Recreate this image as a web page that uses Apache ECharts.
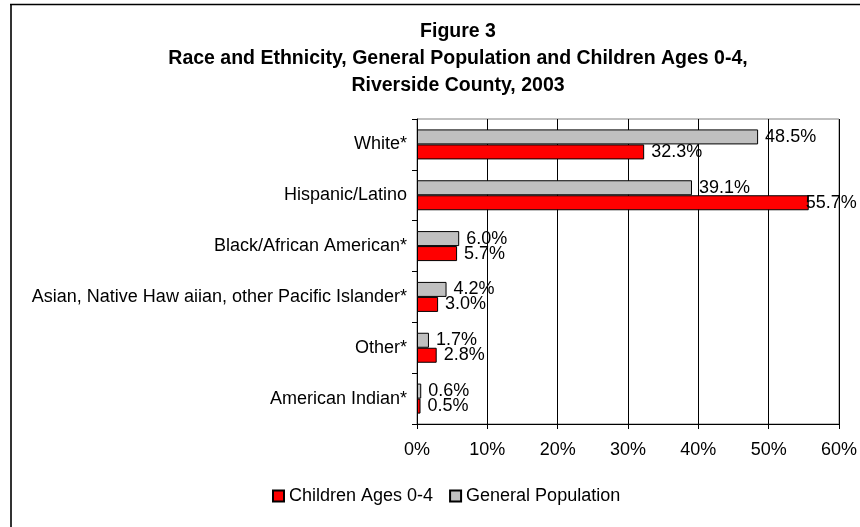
<!DOCTYPE html>
<html>
<head>
<meta charset="utf-8">
<script src="https://cdn.jsdelivr.net/npm/echarts@6/dist/echarts.min.js"></script>
<style>html,body{margin:0;padding:0;background:#fff}#c{width:860px;height:527px}</style>
</head>
<body>
<div id="c"></div>
<script>
var categories = ['White*', 'Hispanic/Latino', 'Black/African American*', 'Asian, Native Haw aiian, other Pacific Islander*', 'Other*', 'American Indian*'];
var generalPopulation = [48.5, 39.1, 6.0, 4.2, 1.7, 0.6];
var childrenAges04 = [32.3, 55.7, 5.7, 3.0, 2.8, 0.5];
var xTicks = [0, 10, 20, 30, 40, 50, 60];
var titleLines = ['Figure 3', 'Race and Ethnicity, General Population and Children Ages 0-4,', 'Riverside County, 2003'];

var FONT = 'Liberation Sans, Arial, sans-serif';
var chart = echarts.init(document.getElementById('c'), null, {renderer: 'canvas'});
function lbl(dist) {
  return {
    show: true, position: 'right', distance: dist, color: '#000', fontSize: 18, fontFamily: FONT,
    formatter: function (p) { return p.value.toFixed(1) + '%'; }
  };
}
// labels that would run past the plot edge are nudged back onto the bar end, as in the reference
function withLabels(arr) {
  return arr.map(function (v) {
    return v > 55 ? {value: v, label: {distance: -3}} : v;
  });
}
chart.setOption({
  animation: false,
  backgroundColor: '#fff',
  graphic: [
    {type: 'line', shape: {x1: 11, y1: 4, x2: 11, y2: 527}, style: {stroke: '#333', lineWidth: 2}, silent: true, z: 100},
    {type: 'line', shape: {x1: 10, y1: 4.5, x2: 860, y2: 4.5}, style: {stroke: '#000', lineWidth: 1.5}, silent: true, z: 100}
  ],
  title: {
    text: titleLines.join('\n'), left: 458, top: 18, textAlign: 'center', padding: 0,
    textStyle: {fontSize: 19.5, fontWeight: 'bold', fontFamily: FONT, color: '#000', lineHeight: 27}
  },
  legend: {
    data: ['Children Ages 0-4', 'General Population'],
    left: 267, top: 482, icon: 'rect', itemWidth: 11, itemHeight: 11, itemGap: 16,
    textStyle: {fontSize: 18, fontFamily: FONT, color: '#000'}
  },
  grid: {left: 417, right: 18, top: 119, bottom: 103, show: true, borderColor: '#808080', borderWidth: 1, containLabel: false},
  xAxis: {
    type: 'value', min: xTicks[0], max: xTicks[xTicks.length - 1], interval: 10,
    axisLine: {show: true, lineStyle: {color: '#000', width: 1}},
    axisTick: {show: true, length: 5, lineStyle: {color: '#000'}},
    splitLine: {show: true, lineStyle: {color: '#000', width: 1}},
    axisLabel: {formatter: '{value}%', fontSize: 18, fontFamily: FONT, color: '#000', margin: 17}
  },
  yAxis: {
    type: 'category', data: categories, inverse: true,
    axisLine: {show: true, lineStyle: {color: '#000', width: 1}},
    axisTick: {show: true, length: 5, lineStyle: {color: '#000'}},
    axisLabel: {fontSize: 18, fontFamily: FONT, color: '#000', margin: 10}
  },
  series: [
    {name: 'General Population', type: 'bar', data: withLabels(generalPopulation), barWidth: 15, barGap: '0%',
     itemStyle: {color: '#C0C0C0', borderColor: '#000', borderWidth: 1}, label: lbl(7)},
    {name: 'Children Ages 0-4', type: 'bar', data: withLabels(childrenAges04), barWidth: 15, barGap: '0%',
     itemStyle: {color: '#FF0000', borderColor: '#000', borderWidth: 1}, label: lbl(7)}
  ]
});
</script>
</body>
</html>
